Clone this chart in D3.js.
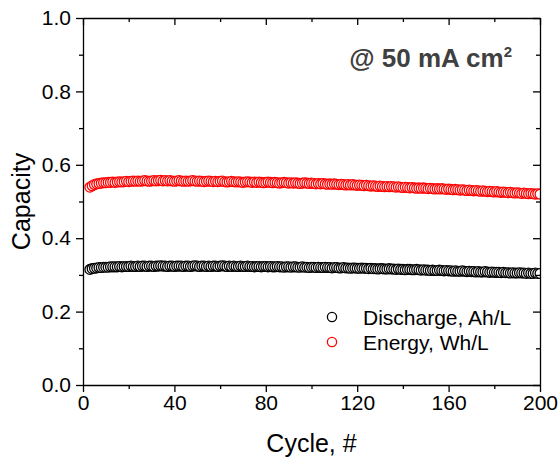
<!DOCTYPE html>
<html>
<head>
<meta charset="utf-8">
<script src="https://cdn.jsdelivr.net/npm/d3@7"></script>
<style>
  body { margin: 0; background: #fff; }
  text { font-family: "Liberation Sans", Arial, sans-serif; }
</style>
</head>
<body>
<div id="chart"></div>
<script>
// Cycle numbers (first recorded cycle is 3)
const cycles = d3.range(3, 201);

// Energy density, Wh/L
const energy = [
  0.539, 0.543, 0.546, 0.548, 0.549, 0.550, 0.551, 0.551, 0.552, 0.552,
  0.553, 0.552, 0.553, 0.554, 0.553, 0.554, 0.555, 0.554, 0.555, 0.556,
  0.555, 0.556, 0.555, 0.556, 0.557, 0.556, 0.555, 0.556, 0.557, 0.556,
  0.557, 0.558, 0.556, 0.557, 0.556, 0.557, 0.556, 0.555, 0.556, 0.557,
  0.556, 0.555, 0.556, 0.555, 0.556, 0.557, 0.556, 0.555, 0.556, 0.555,
  0.554, 0.555, 0.556, 0.555, 0.554, 0.555, 0.554, 0.555, 0.556, 0.554,
  0.553, 0.554, 0.555, 0.554, 0.553, 0.554, 0.553, 0.552, 0.553, 0.554,
  0.553, 0.552, 0.553, 0.552, 0.553, 0.552, 0.551, 0.552, 0.553, 0.552,
  0.551, 0.552, 0.551, 0.550, 0.551, 0.552, 0.551, 0.550, 0.551, 0.550,
  0.551, 0.550, 0.549, 0.550, 0.551, 0.550, 0.549, 0.550, 0.549, 0.548,
  0.549, 0.548, 0.549, 0.548, 0.547, 0.548, 0.547, 0.548, 0.547, 0.546,
  0.547, 0.546, 0.545, 0.546, 0.545, 0.546, 0.545, 0.544, 0.545, 0.544,
  0.543, 0.544, 0.543, 0.542, 0.543, 0.542, 0.541, 0.542, 0.541, 0.540,
  0.541, 0.540, 0.541, 0.540, 0.539, 0.540, 0.539, 0.538, 0.539, 0.538,
  0.537, 0.538, 0.537, 0.536, 0.537, 0.536, 0.537, 0.536, 0.535, 0.536,
  0.535, 0.534, 0.535, 0.534, 0.535, 0.534, 0.533, 0.534, 0.533, 0.532,
  0.533, 0.532, 0.531, 0.532, 0.531, 0.530, 0.531, 0.530, 0.529, 0.530,
  0.529, 0.528, 0.529, 0.528, 0.527, 0.528, 0.527, 0.526, 0.527, 0.526,
  0.525, 0.526, 0.525, 0.524, 0.525, 0.524, 0.523, 0.524, 0.523, 0.522,
  0.523, 0.522, 0.521, 0.522, 0.521, 0.520, 0.521, 0.520
];

// Discharge capacity, Ah/L
const discharge = [
  0.315, 0.317, 0.318, 0.319, 0.320, 0.320, 0.321, 0.321, 0.321, 0.322,
  0.322, 0.322, 0.322, 0.323, 0.322, 0.323, 0.323, 0.323, 0.324, 0.323,
  0.323, 0.324, 0.323, 0.324, 0.324, 0.323, 0.324, 0.324, 0.323, 0.324,
  0.324, 0.325, 0.324, 0.324, 0.323, 0.324, 0.324, 0.323, 0.324, 0.324,
  0.324, 0.323, 0.324, 0.324, 0.323, 0.324, 0.325, 0.324, 0.323, 0.324,
  0.324, 0.323, 0.324, 0.323, 0.324, 0.324, 0.323, 0.324, 0.325, 0.324,
  0.323, 0.324, 0.323, 0.324, 0.323, 0.323, 0.324, 0.323, 0.323, 0.324,
  0.323, 0.323, 0.322, 0.323, 0.323, 0.322, 0.323, 0.323, 0.322, 0.323,
  0.322, 0.322, 0.323, 0.322, 0.322, 0.321, 0.322, 0.322, 0.321, 0.322,
  0.322, 0.321, 0.321, 0.322, 0.321, 0.321, 0.320, 0.321, 0.321, 0.320,
  0.321, 0.320, 0.320, 0.321, 0.320, 0.320, 0.319, 0.320, 0.320, 0.319,
  0.319, 0.320, 0.319, 0.319, 0.318, 0.319, 0.319, 0.318, 0.318, 0.319,
  0.318, 0.318, 0.317, 0.318, 0.317, 0.317, 0.316, 0.317, 0.317, 0.316,
  0.316, 0.317, 0.316, 0.316, 0.315, 0.316, 0.315, 0.315, 0.314, 0.315,
  0.315, 0.314, 0.314, 0.315, 0.314, 0.313, 0.314, 0.313, 0.313, 0.312,
  0.313, 0.312, 0.312, 0.313, 0.312, 0.311, 0.312, 0.311, 0.311, 0.310,
  0.311, 0.310, 0.310, 0.311, 0.310, 0.309, 0.310, 0.309, 0.309, 0.308,
  0.309, 0.308, 0.308, 0.309, 0.308, 0.307, 0.308, 0.307, 0.307, 0.307,
  0.306, 0.307, 0.306, 0.306, 0.305, 0.306, 0.305, 0.305, 0.306, 0.305,
  0.305, 0.304, 0.305, 0.304, 0.304, 0.305, 0.304, 0.304
];

const xTicks = [0, 40, 80, 120, 160, 200];
const yTicks = [0.0, 0.2, 0.4, 0.6, 0.8, 1.0];

const series = [
  { name: "Discharge, Ah/L", color: "#000000", values: discharge },
  { name: "Energy, Wh/L", color: "#ff0000", values: energy }
];

// Set up dimensions
const width = 558, height = 457;
const margin = { top: 18, right: 18, bottom: 72, left: 83 };
const iw = width - margin.left - margin.right;
const ih = height - margin.top - margin.bottom;

const svg = d3.select("#chart").append("svg")
    .attr("width", width)
    .attr("height", height);

const g = svg.append("g").attr("transform", `translate(${margin.left},${margin.top})`);

const x = d3.scaleLinear().domain([0, 200]).range([0, iw]);
const y = d3.scaleLinear().domain([0, 1]).range([ih, 0]);

svg.append("defs").append("clipPath").attr("id", "plot-clip")
  .append("rect").attr("width", iw).attr("height", ih);

// Markers: white-filled circles, drawn in cycle order
const plot = g.append("g").attr("clip-path", "url(#plot-clip)");
series.forEach(s => {
  plot.append("g").selectAll("circle")
    .data(cycles.map((c, i) => [c, s.values[i]]))
    .enter().append("circle")
    .attr("cx", d => x(d[0]))
    .attr("cy", d => y(d[1]))
    .attr("r", 4.9)
    .attr("fill", "#fff")
    .attr("stroke", s.color)
    .attr("stroke-width", 1.3);
});

// Axes: bottom/left ticks outward, top/right mirrored inward
const fmtY = d3.format(".1f");
const styleAxis = sel => {
  sel.selectAll("path").attr("stroke", "#000").attr("stroke-width", 1.3);
  sel.selectAll("line").attr("stroke", "#000").attr("stroke-width", 1.3);
  sel.selectAll("text").attr("font-family", "Liberation Sans, Arial, sans-serif")
    .attr("font-size", 21).attr("fill", "#000");
};
const xMinor = d3.range(20, 200, 40);
const yMinor = d3.range(0.1, 1.0, 0.2);

g.append("g").attr("transform", `translate(0,${ih})`)
  .call(d3.axisBottom(x).tickValues(xTicks).tickSizeInner(7).tickSizeOuter(0).tickPadding(3))
  .call(styleAxis);
g.append("g").attr("transform", `translate(0,${ih})`)
  .call(d3.axisBottom(x).tickValues(xMinor).tickSize(4).tickFormat(""))
  .call(styleAxis).select("path").remove();

g.append("g")
  .call(d3.axisLeft(y).tickValues(yTicks).tickFormat(fmtY).tickSizeInner(7).tickSizeOuter(0).tickPadding(5))
  .call(styleAxis);
g.append("g")
  .call(d3.axisLeft(y).tickValues(yMinor).tickSize(4).tickFormat(""))
  .call(styleAxis).select("path").remove();

g.append("g")
  .call(d3.axisBottom(x).tickValues(xTicks).tickSizeInner(7).tickSizeOuter(0).tickFormat(""))
  .call(styleAxis);
g.append("g")
  .call(d3.axisBottom(x).tickValues(xMinor).tickSize(4).tickFormat(""))
  .call(styleAxis).select("path").remove();

g.append("g").attr("transform", `translate(${iw},0)`)
  .call(d3.axisLeft(y).tickValues(yTicks).tickSizeInner(7).tickSizeOuter(0).tickFormat(""))
  .call(styleAxis);
g.append("g").attr("transform", `translate(${iw},0)`)
  .call(d3.axisLeft(y).tickValues(yMinor).tickSize(4).tickFormat(""))
  .call(styleAxis).select("path").remove();

// Axis titles
svg.append("text")
  .attr("x", margin.left + iw / 2)
  .attr("y", 452)
  .attr("text-anchor", "middle")
  .attr("font-size", 25)
  .text("Cycle, #");

svg.append("text")
  .attr("transform", `translate(30,${margin.top + ih / 2}) rotate(-90)`)
  .attr("text-anchor", "middle")
  .attr("font-size", 25)
  .text("Capacity");

// Condition label
const note = svg.append("text")
  .attr("x", 512)
  .attr("y", 67)
  .attr("text-anchor", "end")
  .attr("font-size", 26)
  .attr("font-weight", "bold")
  .attr("fill", "#404040");
note.append("tspan").text("@ 50 mA cm");
note.append("tspan").attr("font-size", 15).attr("dy", -10).text("2");

// Legend
const legend = svg.append("g");
series.forEach((s, i) => {
  const base = 325 + i * 25;
  legend.append("circle")
    .attr("cx", 332).attr("cy", base - 8).attr("r", 4.6)
    .attr("fill", "#fff").attr("stroke", s.color).attr("stroke-width", 1.3);
  legend.append("text")
    .attr("x", 363).attr("y", base)
    .attr("font-size", 21)
    .text(s.name);
});
</script>
</body>
</html>
